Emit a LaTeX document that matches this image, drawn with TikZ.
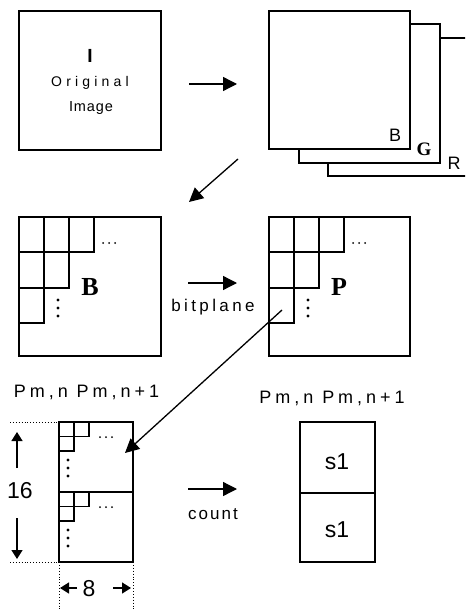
\documentclass[tikz,border=0pt]{standalone}
\usepackage{fontspec}
\setmainfont{Liberation Sans}
\newfontfamily\gulA[LetterSpace=30]{Liberation Sans}
\newfontfamily\gulB[LetterSpace=6]{Liberation Sans}
\newfontfamily\gulC[LetterSpace=22]{Liberation Sans}
\newfontfamily\gulD[LetterSpace=20]{Liberation Sans}
\newfontfamily\gulE[LetterSpace=12]{Liberation Sans}
\newfontfamily\tnr{Liberation Serif}
\usetikzlibrary{arrows.meta}
\begin{document}
\begin{tikzpicture}[x=1pt,y=-1pt,
  box/.style={draw,line width=1.4pt,inner sep=0pt,outer sep=0pt},
  wbox/.style={box,fill=white},
  arr/.style={line width=1.3pt,-{Triangle[length=14pt,width=14pt]}},
  sarr/.style={line width=1.3pt,-{Triangle[length=9pt,width=11pt]}},
  cell/.style={draw,line width=1.2pt},
  lbl/.style={inner sep=0pt},
  gbig/.style={lbl,font=\gulC\fontsize{18}{18}\selectfont},
  serifbold/.style={lbl,font=\tnr\bfseries\fontsize{26}{26}\selectfont},
  num/.style={lbl,font=\fontsize{23}{23}\selectfont},
  dotline/.style={dotted,line width=0.9pt}]
\useasboundingbox (0,0) rectangle (465,609);

% ---- original image
\node[box,minimum width=142pt,minimum height=139pt] (I) at (90,80.5) {};
\node[lbl,font=\bfseries\fontsize{19}{19}\selectfont] (Itxt) at (90,56) {I};
\node[lbl,font=\gulA\fontsize{14}{14}\selectfont] (orig) at (90,83) {Original};
\node[lbl,font=\gulB\fontsize{14.5}{14.5}\selectfont] (img) at (91,108) {Image};

\coordinate (a1s) at (189,84);
\coordinate (a1e) at (237,84);
\draw[arr] (a1s) -- (a1e);

% ---- RGB stack
\begin{scope}
\clip (0,0) rectangle (465,609);
\node[wbox,minimum width=152pt,minimum height=138pt] (R) at (404,107) {};
\node[wbox,minimum width=141pt,minimum height=139pt] (G) at (369.5,93.5) {};
\node[wbox,minimum width=141pt,minimum height=138pt] (Bc) at (339.5,80) {};
\end{scope}
\node[lbl,font=\fontsize{18}{18}\selectfont] (Blbl) at (395,135) {B};
\node[lbl,font=\tnr\bfseries\fontsize{19}{19}\selectfont] (Glbl) at (424,149) {G};
\node[lbl,font=\fontsize{18}{18}\selectfont] (Rlbl) at (454,163) {R};

\coordinate (a2s) at (238,159);
\coordinate (a2e) at (189,202);
\draw[arr] (a2s) -- (a2e);

% ---- B plane and P plane
\node[box,minimum width=142pt,minimum height=139pt] (Bp) at (90,286.5) {};
\node[box,minimum width=141pt,minimum height=139pt] (Pp) at (339.5,286.5) {};
\foreach \ox in {0,250}{
  \draw[cell] (19+\ox,217) rectangle (44+\ox,252);
  \draw[cell] (44+\ox,217) rectangle (69+\ox,252);
  \draw[cell] (69+\ox,217) rectangle (94+\ox,252);
  \draw[cell] (19+\ox,252) rectangle (44+\ox,288);
  \draw[cell] (44+\ox,252) rectangle (69+\ox,288);
  \draw[cell] (19+\ox,288) rectangle (44+\ox,323);
  \foreach \yy in {300,308,316} \fill (58+\ox,\yy) circle (1.7pt);
  \foreach \xx in {103,109,115} \fill (\xx+\ox,243) circle (1pt);
}
\node[serifbold] (Btxt) at (90,287) {B};
\node[serifbold] (Ptxt) at (339,287) {P};

\coordinate (a3s) at (188,283);
\coordinate (a3e) at (237,283);
\draw[arr] (a3s) -- (a3e);
\node[lbl,font=\gulD\fontsize{17}{17}\selectfont] (bitplane) at (213,307) {bitplane};

\coordinate (pin) at (282,310);
\coordinate (pout) at (125,453);
\draw[arr] (pin) -- (pout);

% ---- bottom left block
\node[gbig] (lblL) at (86.5,392) {Pm,n Pm,n+1};
\node[box,minimum width=74pt,minimum height=70pt] (top) at (96,457) {};
\node[box,minimum width=74pt,minimum height=70pt] (bot) at (96,527) {};
\foreach \oy in {0,70}{
  \draw[cell] (59,422+\oy) rectangle (74,436.5+\oy);
  \draw[cell] (74,422+\oy) rectangle (89,436.5+\oy);
  \draw[cell] (59,436.5+\oy) rectangle (74,451+\oy);
  \foreach \yy in {460,468,476} \fill (68,\yy+\oy) circle (1.7pt);
  \foreach \xx in {100,106,112} \fill (\xx,437+\oy) circle (1pt);
}
\coordinate (d1) at (10,422);
\coordinate (d2) at (10,562);
\coordinate (d3) at (59,609);
\coordinate (d4) at (133,609);
\draw[dotline] (d1) -- (top.north west);
\draw[dotline] (d2) -- (bot.south west);
\draw[dotline] (bot.south west) -- (d3);
\draw[dotline] (bot.south east) -- (d4);

\node[num] (n16) at (20,491) {16};
\coordinate (u1) at (17,468);
\coordinate (u2) at (17,432);
\coordinate (w1) at (17,518);
\coordinate (w2) at (17,559);
\draw[sarr] (u1) -- (u2);
\draw[sarr] (w1) -- (w2);

\node[num] (n8) at (89,589) {8};
\coordinate (l1) at (77,588);
\coordinate (l2) at (60,588);
\coordinate (r1) at (113,588);
\coordinate (r2) at (131,588);
\draw[sarr] (l1) -- (l2);
\draw[sarr] (r1) -- (r2);

\coordinate (a4s) at (188,489);
\coordinate (a4e) at (237,489);
\draw[arr] (a4s) -- (a4e);
\node[lbl,font=\gulE\fontsize{17}{17}\selectfont] (count) at (213,514) {count};

% ---- bottom right block
\node[gbig] (lblR) at (332,398) {Pm,n Pm,n+1};
\node[box,minimum width=75pt,minimum height=71pt] (s1a) at (337.5,457.5) {};
\node[box,minimum width=75pt,minimum height=69pt] (s1b) at (337.5,527.5) {};
\node[num] (s1at) at (337,462) {s1};
\node[num] (s1bt) at (337,530) {s1};
\end{tikzpicture}
\end{document}
